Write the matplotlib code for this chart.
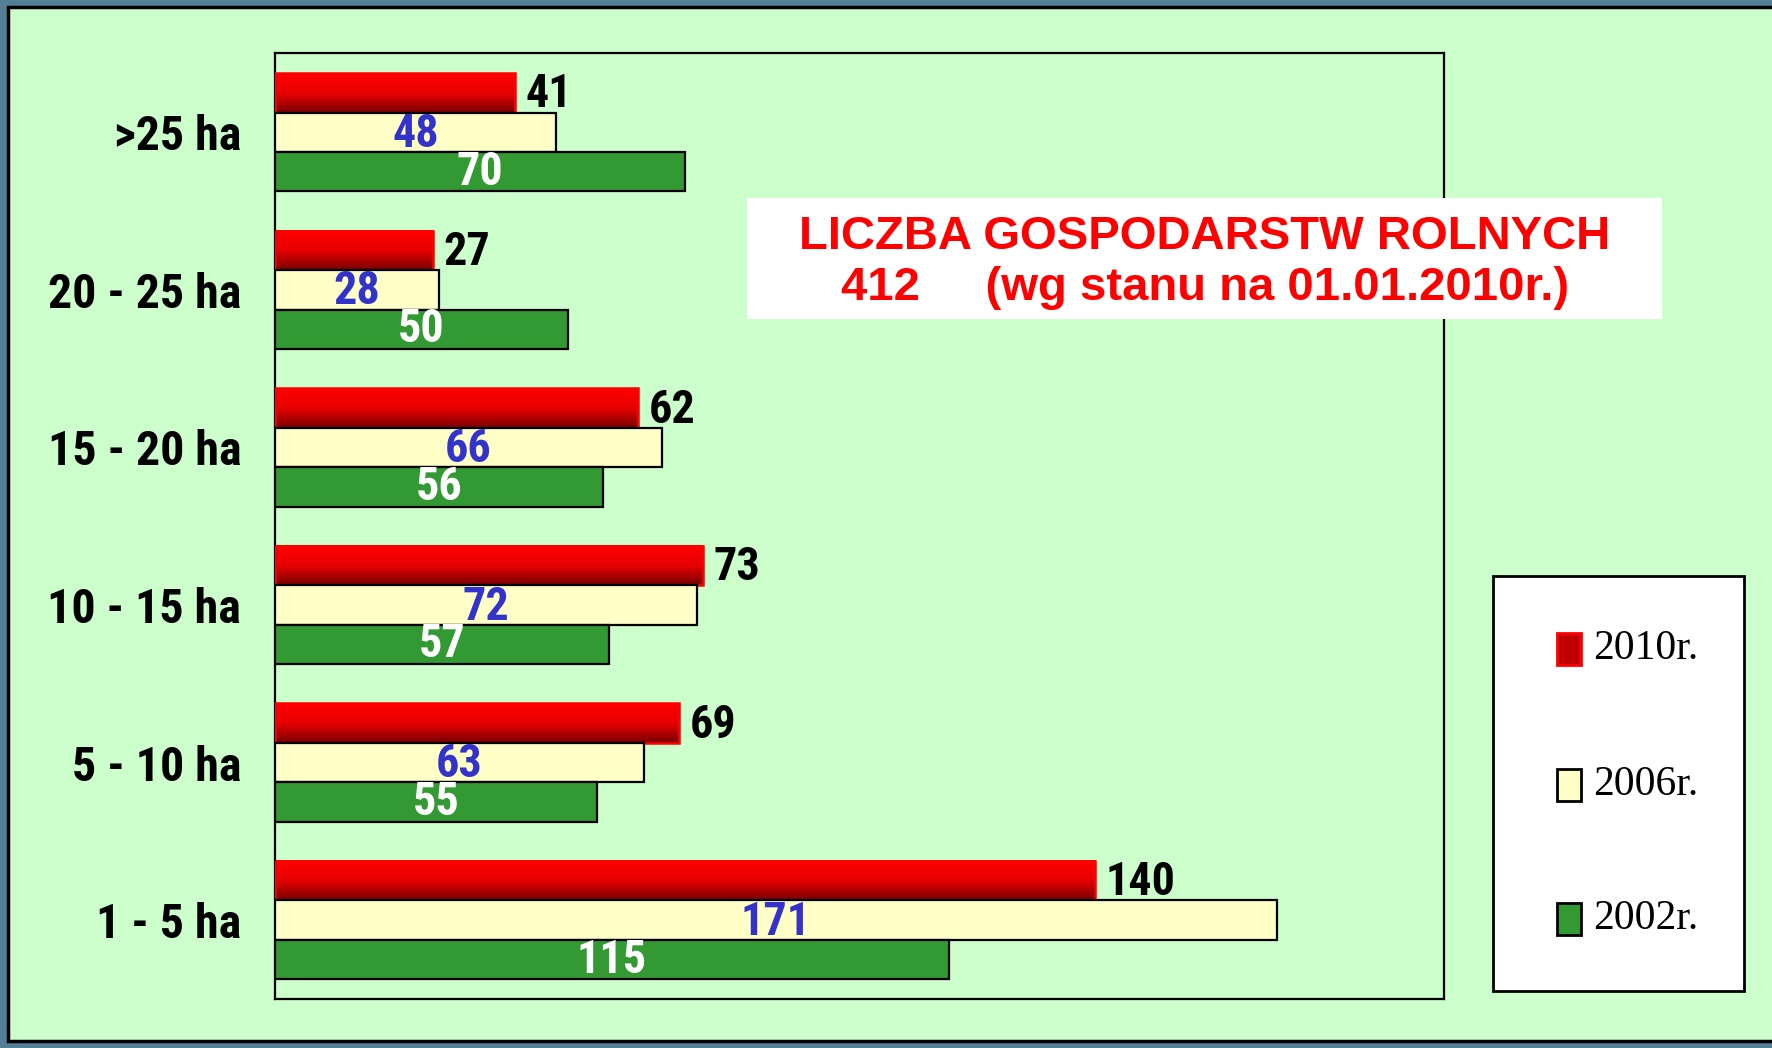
import numpy as np
import matplotlib
matplotlib.use("Agg")
from matplotlib import pyplot as plt
from matplotlib import font_manager
from matplotlib.patches import Rectangle
from matplotlib.colors import LinearSegmentedColormap

# farm size groups, top to bottom
categories = [">25 ha", "20 - 25 ha", "15 - 20 ha", "10 - 15 ha", "5 - 10 ha", "1 - 5 ha"]
values_2010 = [41, 27, 62, 73, 69, 140]
values_2006 = [48, 28, 66, 72, 63, 171]
values_2002 = [70, 50, 56, 57, 55, 115]
series_labels = ["2010r.", "2006r.", "2002r."]
title_lines = ["LICZBA GOSPODARSTW ROLNYCH", "412     (wg stanu na 01.01.2010r.)"]

installed = {f.name for f in font_manager.fontManager.ttflist}
NARROW = [f for f in ["Liberation Sans Narrow", "Roboto Condensed", "Open Sans Condensed",
                      "DejaVu Sans"] if f in installed] or ["DejaVu Sans"]
SERIF = ["Liberation Serif", "DejaVu Serif"]
PANEL_GREEN = "#CCFFCC"
YELLOW = "#FFFFC8"
GREEN = "#339933"
BLUE = "#3333CC"
red_grad = LinearSegmentedColormap.from_list("redgrad", ["#FF0000", "#E80000", "#7A0000"])


def draw_red_bar(ax, y, width, h):
    grad = np.linspace(0, 1, 64).reshape(-1, 1)
    ax.imshow(grad, extent=(0, width, y - h / 2, y + h / 2), cmap=red_grad,
              aspect="auto", origin="upper", zorder=2, interpolation="bicubic")
    ax.barh(y, width, height=h, facecolor="none", edgecolor="#FF0000", linewidth=1.8, zorder=3)


def fit_size(fig, txt, target_w, max_size):
    # shrink/grow a text so it is about as wide as in the original
    fig.canvas.draw()
    w = txt.get_window_extent(fig.canvas.get_renderer()).width
    return min(max_size, txt.get_fontsize() * target_w / w)


def plot_chart():
    fig = plt.figure(figsize=(17.72, 10.48), dpi=100)
    fig.patch.set_facecolor("#527f95")
    # light green panel with black frame
    fig.add_artist(Rectangle((8 / 1772, 7 / 1048), 1.1, 1034 / 1048, transform=fig.transFigure,
                             facecolor=PANEL_GREEN, edgecolor="black", linewidth=2.5, zorder=-5))

    ax = fig.add_axes([0.155, 0.0468, 0.660, 0.9022])
    ax.set_facecolor(PANEL_GREEN)
    for s in ax.spines.values():
        s.set_linewidth(1.6)
        s.set_color("black")

    n = len(categories)
    ypos = np.arange(n)[::-1]
    h = 0.25
    for i, y in enumerate(ypos):
        draw_red_bar(ax, y + 0.25, values_2010[i], h)
    ax.barh(ypos, values_2006, height=h, color=YELLOW, edgecolor="black", linewidth=1.6, zorder=3)
    ax.barh(ypos - 0.25, values_2002, height=h, color=GREEN, edgecolor="black", linewidth=1.6, zorder=3)

    ax.set_xlim(0, 199.5)
    ax.set_ylim(-0.5, n - 0.5)
    ax.set_xticks([])
    ax.set_yticks(ypos)
    ax.set_yticklabels(categories, fontsize=36, fontweight="bold", family=NARROW, fontstretch="condensed")
    ax.tick_params(axis="y", length=0, pad=24)
    lab_size = fit_size(fig, ax.get_yticklabels()[1], 194, 40)
    for t in ax.get_yticklabels():
        t.set_fontsize(lab_size)

    probe = ax.text(0, 0, "140", fontsize=35, fontweight="bold", family=NARROW, fontstretch="condensed")
    num_size = fit_size(fig, probe, 70, 42)
    probe.remove()
    num_kw = dict(fontsize=num_size, fontweight="bold", family=NARROW, fontstretch="condensed", zorder=5)
    for i, y in enumerate(ypos):
        ax.text(values_2010[i] + 1.8, y + 0.24, str(values_2010[i]), ha="left", va="center",
                color="black", **num_kw)
        ax.text(values_2006[i] / 2, y - 0.01, str(values_2006[i]), ha="center", va="center",
                color=BLUE, **num_kw)
        ax.text(values_2002[i] / 2, y - 0.25, str(values_2002[i]), ha="center", va="center",
                color="white", **num_kw)

    # title box
    fig.add_artist(Rectangle((747 / 1772, 1 - 319 / 1048), 915 / 1772, 121 / 1048,
                             transform=fig.transFigure, facecolor="white", edgecolor="none", zorder=5))
    t1 = fig.text(0.680, 1 - 237 / 1048, title_lines[0], ha="center", va="center", fontsize=31,
                  fontweight="bold", color="#FF0000", family=["Liberation Sans", "DejaVu Sans"], zorder=6)
    t2 = fig.text(0.680, 1 - 288 / 1048, title_lines[1], ha="center", va="center", fontsize=31,
                  fontweight="bold", color="#FF0000", family=["Liberation Sans", "DejaVu Sans"], zorder=6)
    title_size = fit_size(fig, t1, 810, 36)
    t1.set_fontsize(title_size)
    t2.set_fontsize(title_size)

    # legend box
    fig.add_artist(Rectangle((1493 / 1772, 1 - 991 / 1048), 251 / 1772, 415 / 1048,
                             transform=fig.transFigure, facecolor="white", edgecolor="black",
                             linewidth=2, zorder=5))
    marker_faces = ["#C00000", YELLOW, GREEN]
    marker_edges = ["#FF0000", "black", "black"]
    entry_y = [649, 785, 919]
    for lab, fc, ec, yy in zip(series_labels, marker_faces, marker_edges, entry_y):
        fig.add_artist(Rectangle((1557 / 1772, 1 - (yy + 16) / 1048), 24 / 1772, 32 / 1048,
                                 transform=fig.transFigure, facecolor=fc, edgecolor=ec,
                                 linewidth=2, zorder=6))
        fig.text(1593 / 1772, 1 - yy / 1048, lab, ha="left", va="center", fontsize=30,
                 family=SERIF, color="black", zorder=6)

    fig.savefig("out.png", dpi=100, facecolor=fig.get_facecolor())


if __name__ == "__main__":
    plot_chart()
